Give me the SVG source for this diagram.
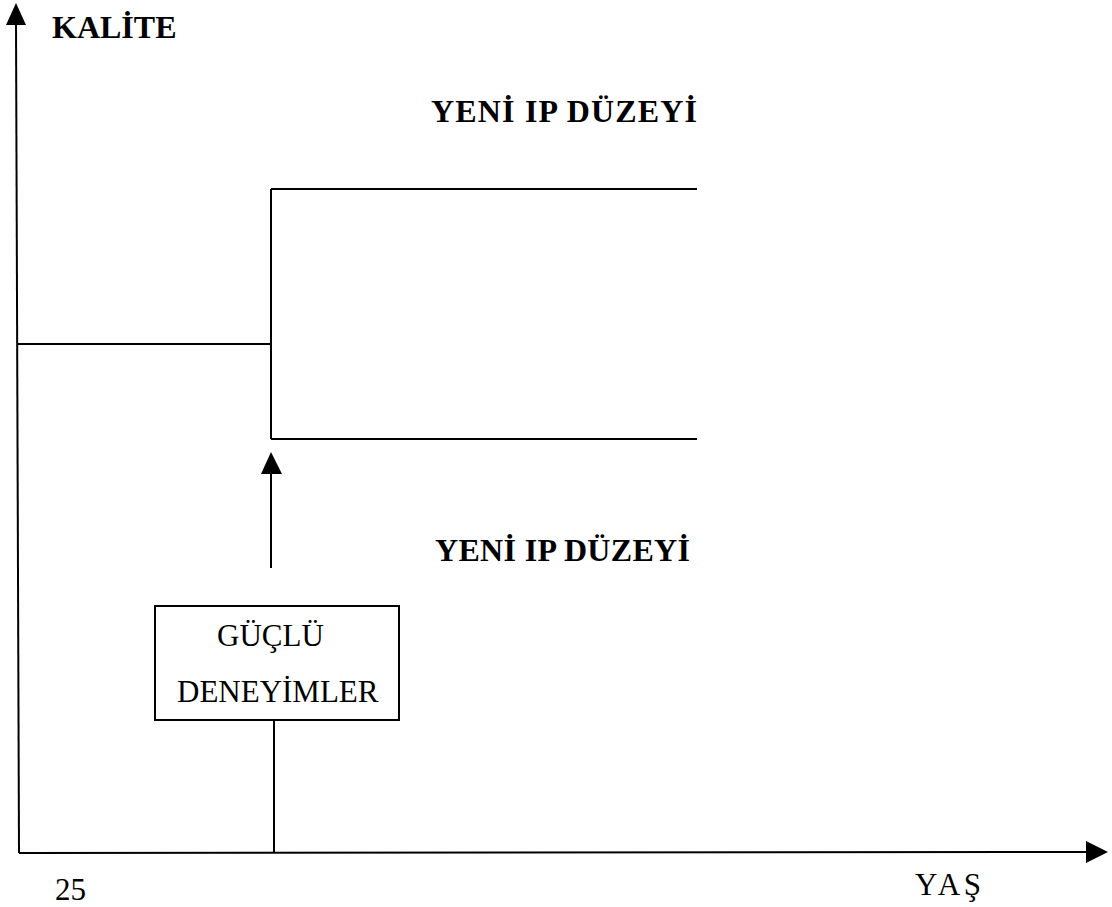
<svg xmlns="http://www.w3.org/2000/svg" width="1112" height="907" viewBox="0 0 1112 907">
  <style>
    .ln { stroke: #000; stroke-width: 2; fill: none; }
    .head { fill: #000; stroke: none; }
    .bold { font-family: "Liberation Serif", "Times New Roman", serif; font-weight: bold; font-size: 32px; fill: #000; }
    .reg { font-family: "Liberation Serif", "Times New Roman", serif; font-size: 31px; fill: #000; }
  </style>
  <rect width="1112" height="907" fill="#fff"/>

  <!-- axes -->
  <g id="axes">
    <line class="ln" x1="16" y1="22" x2="19" y2="853"/>
    <polygon class="head" points="16,3 26,25 6,25"/>
    <line class="ln" x1="19" y1="853" x2="1088" y2="852"/>
    <polygon class="head" points="1108,852 1086,841 1086,863"/>
    <text class="bold" x="52" y="38" font-size="31">KALİTE</text>
    <text class="reg" x="55" y="900">25</text>
    <text class="reg" x="915" y="895" textLength="66" lengthAdjust="spacing">YAŞ</text>
  </g>

  <!-- connectors: quality step -->
  <g id="connectors">
    <polyline class="ln" points="17,344 271,344"/>
    <line class="ln" x1="271" y1="189" x2="271" y2="439"/>
    <line class="ln" x1="271" y1="189" x2="697" y2="189"/>
    <line class="ln" x1="271" y1="439" x2="697" y2="439"/>
    <line class="ln" x1="271" y1="568" x2="271" y2="470"/>
    <polygon class="head" points="271,452 282,474 261,474"/>
    <line class="ln" x1="274" y1="720" x2="274" y2="853"/>
  </g>

  <g id="label-top">
    <text class="bold" x="431" y="122" textLength="266" lengthAdjust="spacing">YENİ IP DÜZEYİ</text>
  </g>
  <g id="label-bottom">
    <text class="bold" x="435" y="561" textLength="255" lengthAdjust="spacing">YENİ IP DÜZEYİ</text>
  </g>

  <g id="experiences">
    <rect class="ln" x="155" y="606" width="244" height="114"/>
    <text class="reg" x="217" y="646">GÜÇLÜ</text>
    <text class="reg" x="177" y="702">DENEYİMLER</text>
  </g>
</svg>
